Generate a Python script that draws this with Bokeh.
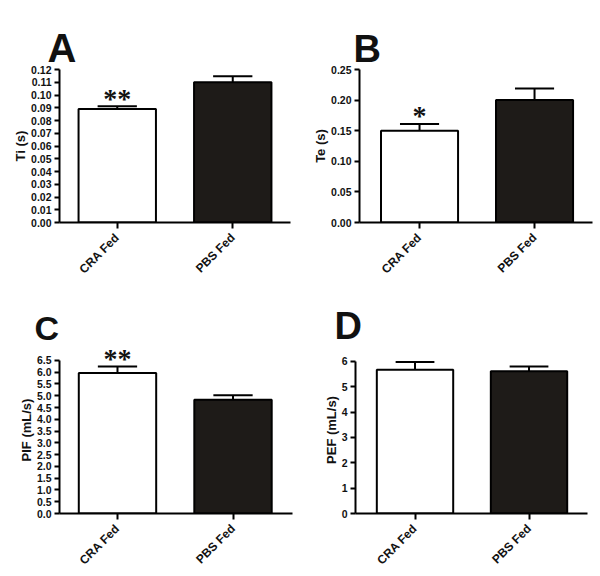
from bokeh.plotting import figure
from bokeh.layouts import column, row
from bokeh.models import FixedTicker, Range1d, NumeralTickFormatter, Title
from bokeh.embed import file_html
from bokeh.resources import INLINE

# ---------------- data ----------------
groups = ["CRA Fed", "PBS Fed"]

ti_mean = [0.089, 0.110]
ti_err_top = [0.0912, 0.1147]

te_mean = [0.150, 0.200]
te_err_top = [0.161, 0.219]

pif_mean = [5.96, 4.83]
pif_err_top = [6.24, 5.02]

pef_mean = [5.67, 5.61]
pef_err_top = [5.98, 5.80]

ti_ticks = [0.00, 0.01, 0.02, 0.03, 0.04, 0.05, 0.06, 0.07, 0.08, 0.09, 0.10, 0.11, 0.12]
te_ticks = [0.00, 0.05, 0.10, 0.15, 0.20, 0.25]
pif_ticks = [0.0, 0.5, 1.0, 1.5, 2.0, 2.5, 3.0, 3.5, 4.0, 4.5, 5.0, 5.5, 6.0, 6.5]
pef_ticks = [0, 1, 2, 3, 4, 5, 6]

ti_stars = ["**", ""]
te_stars = ["*", ""]
pif_stars = ["**", ""]
pef_stars = ["", ""]

FONT = "Liberation Sans"
BAR_COLORS = ["white", "#1e1b18"]


def panel(letter, ylabel, means, err_tops, ticks, fmt, stars,
          x_range, y_top, borders, letter_size, letter_offset, lift):
    left, right, top, bottom = borders
    p = figure(width=300, height=288 + lift, output_backend="svg",
               toolbar_location=None, margin=(-lift, 0, 0, 0),
               x_range=Range1d(*x_range), y_range=Range1d(ticks[0], y_top),
               min_border_left=left, min_border_right=right,
               min_border_top=top + lift, min_border_bottom=bottom)
    p.grid.visible = False
    p.outline_line_color = None
    p.background_fill_color = "white"
    p.border_fill_color = "white"

    p.add_layout(Title(text=letter, text_font=FONT, text_font_style="bold",
                       text_font_size=letter_size, text_color="#111111",
                       align="left", offset=letter_offset, standoff=0), "above")

    xs = [i + 1 for i in range(len(groups))]
    p.vbar(x=xs, top=means, width=0.67, fill_color=BAR_COLORS,
           line_color="black", line_width=2)
    p.segment(x0=xs, y0=means, x1=xs, y1=err_tops, line_color="black", line_width=2)
    p.segment(x0=[x - 0.17 for x in xs], y0=err_tops,
              x1=[x + 0.17 for x in xs], y1=err_tops,
              line_color="black", line_width=2)
    p.text(x=xs, y=err_tops, text=stars, text_align="center",
           text_baseline="alphabetic", text_font=FONT, text_font_style="bold",
           text_font_size="28px", text_color="#111111", y_offset=-8)

    # axes
    xa = p.xaxis[0]
    xa.ticker = FixedTicker(ticks=xs)
    xa.major_label_overrides = {x: g for x, g in zip(xs, groups)}
    xa.major_label_orientation = 0.785398
    xa.major_label_text_font = FONT
    xa.major_label_text_font_style = "bold"
    xa.major_label_text_font_size = "12px"
    xa.major_label_text_color = "#111111"
    xa.major_label_standoff = 7
    xa.axis_line_width = 2
    xa.major_tick_line_width = 2
    xa.major_tick_out = 6
    xa.major_tick_in = 0
    xa.minor_tick_line_color = None

    ya = p.yaxis[0]
    ya.ticker = FixedTicker(ticks=ticks)
    ya.bounds = (ticks[0], ticks[-1])
    ya.formatter = NumeralTickFormatter(format=fmt)
    ya.major_label_text_font = FONT
    ya.major_label_text_font_style = "bold"
    ya.major_label_text_font_size = "10.5px"
    ya.major_label_text_color = "#111111"
    ya.major_label_standoff = 3
    ya.axis_line_width = 2
    ya.major_tick_line_width = 2
    ya.major_tick_out = 5
    ya.major_tick_in = 0
    ya.minor_tick_line_color = None
    ya.axis_label = ylabel
    ya.axis_label_text_font = FONT
    ya.axis_label_text_font_style = "bold"
    ya.axis_label_text_font_size = "13px"
    ya.axis_label_text_color = "#111111"
    ya.axis_label_standoff = 0
    return p


pA = panel("A", "Ti (s)", ti_mean, ti_err_top, ti_ticks, "0.00", ti_stars,
           (0.5, 2.5), ti_ticks[-1], (59, 10, 69, 66), "40px", -12, 6)
pB = panel("B", "Te (s)", te_mean, te_err_top, te_ticks, "0.00", te_stars,
           (0.478, 2.504), te_ticks[-1], (59, 8, 69, 66), "38px", -6, 6)
pC = panel("C", "PIF (mL/s)", pif_mean, pif_err_top, pif_ticks, "0.0", pif_stars,
           (0.498, 2.515), 7.09, (59, 8, 58, 63), "34px", -25, 9)
pD = panel("D", "PEF (mL/s)", pef_mean, pef_err_top, pef_ticks, "0", pef_stars,
           (0.478, 2.513), 6.59, (55, 13, 58, 63), "38px", -21, 9)

layout = column(row(pA, pB), row(pC, pD))

open("out.html", "w").write(file_html(layout, INLINE))
